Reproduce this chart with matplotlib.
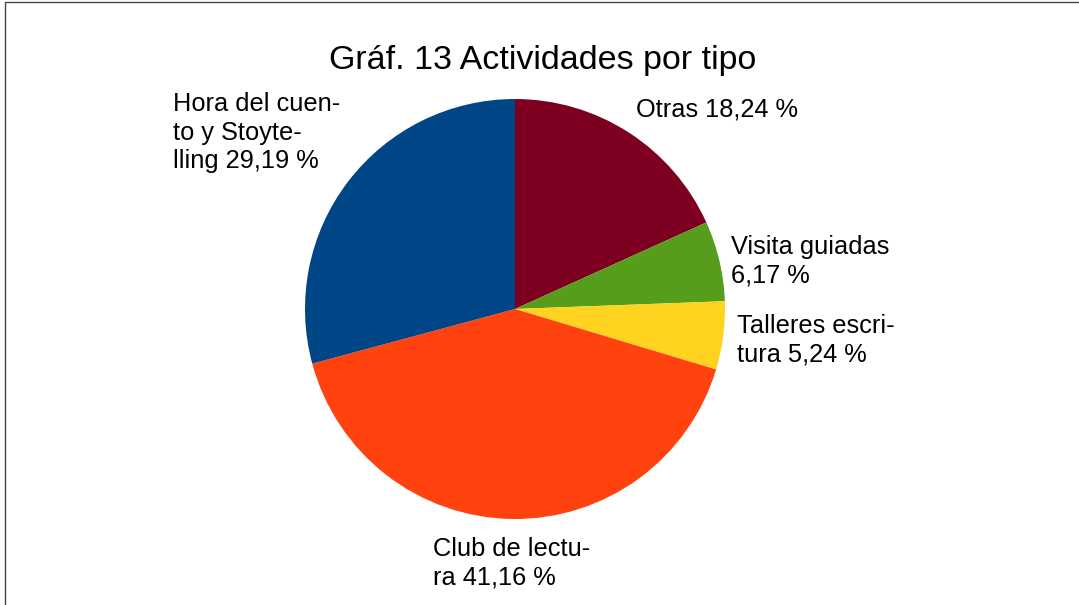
import matplotlib.pyplot as plt
from matplotlib.patches import Rectangle

plt.rcParams['font.family'] = ['Liberation Sans', 'DejaVu Sans']

# Datos del gráfico
categorias = ['Otras', 'Visita guiadas', 'Talleres escritura', 'Club de lectura',
              'Hora del cuento y Stoytelling']
porcentajes = [18.24, 6.17, 5.24, 41.16, 29.19]
etiquetas = ['Otras 18,24 %', 'Visita guiadas\n6,17 %', 'Talleres escri-\ntura 5,24 %',
             'Club de lectu-\nra 41,16 %', 'Hora del cuen-\nto y Stoyte-\nlling 29,19 %']
colores = ['#7E0021', '#579D1C', '#FFD320', '#FF420E', '#004586']

# posiciones de las etiquetas (pixeles, esquina superior izquierda)
pos_etiquetas = [(636, 97), (731, 235), (737, 314), (433, 537), (173, 92)]

W, H = 1079, 605
fig = plt.figure(figsize=(W / 100, H / 100), dpi=100)

# marco
fig.patches.append(Rectangle((5 / W, -0.1), 1.2, 1 - 2 / H + 0.1, transform=fig.transFigure,
                             fill=False, edgecolor='#444444', linewidth=1.0))

cx, cy, r = 515, 309, 210
ax = fig.add_axes([(cx - r) / W, (H - cy - r) / H, 2 * r / W, 2 * r / H])
ax.pie(porcentajes, colors=colores, startangle=90, counterclock=False,
       wedgeprops={'linewidth': 0})
ax.set_xlim(-1, 1)
ax.set_ylim(-1, 1)
ax.axis('off')

for texto, (px, py) in zip(etiquetas, pos_etiquetas):
    fig.text(px / W, 1 - py / H, texto, fontsize=18.3, ha='left', va='top',
             linespacing=1.24)

fig.text(543 / W, 1 - 60 / H, 'Gráf. 13 Actividades por tipo', fontsize=24.5,
         ha='center', va='center')

fig.savefig('out.png', dpi=100)
